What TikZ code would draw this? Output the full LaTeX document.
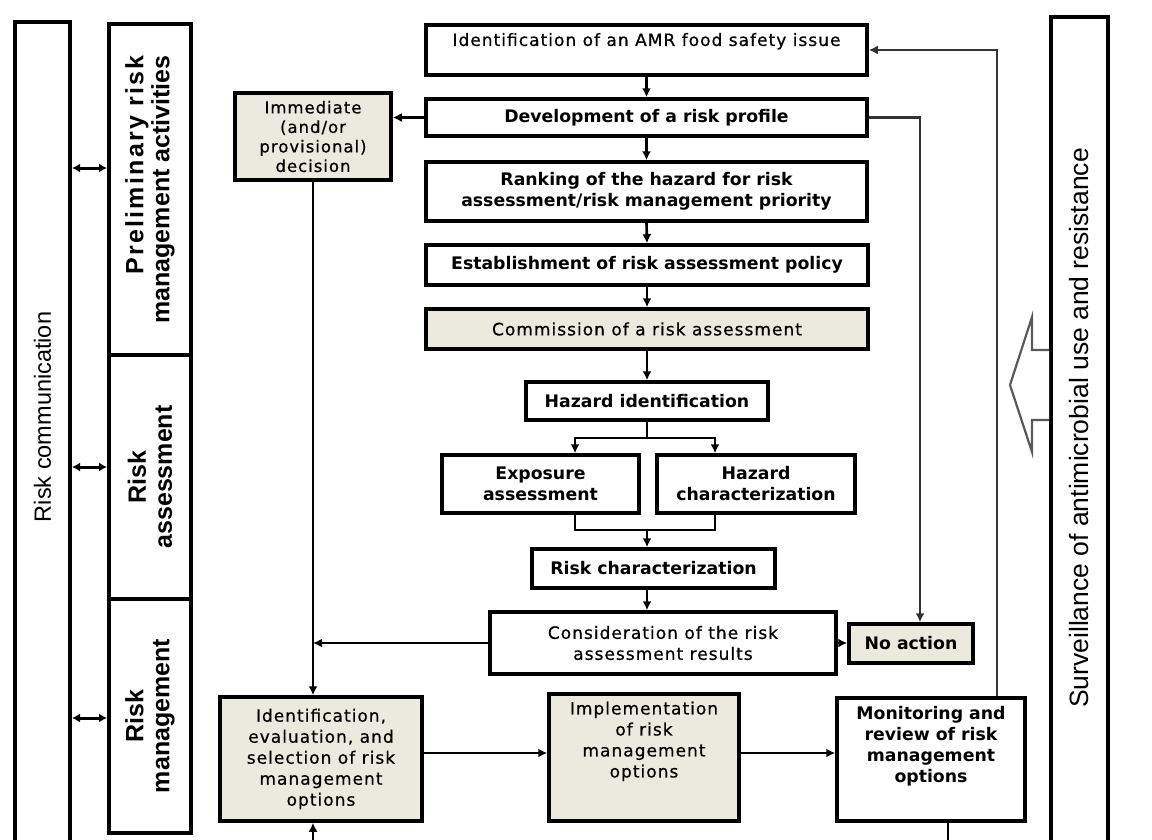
\documentclass[tikz,border=0pt]{standalone}
\usepackage{fontspec}
\setmainfont{DejaVu Sans}
\newfontfamily\regf[LetterSpace=6,FakeBold=0.6]{DejaVu Sans}
\newfontfamily\arialf{Liberation Sans}
\newfontfamily\arialsp[LetterSpace=9]{Liberation Sans}
\usetikzlibrary{arrows.meta,calc}
\definecolor{beige}{RGB}{236,234,223}
\newcommand\dpth[1]{\rule[-#1]{0pt}{#1}}
\begin{document}
\begin{tikzpicture}[x=1pt,y=-1pt,
  box/.style={draw=black,line width=3.5pt,inner sep=2pt,align=center,text=black},
  tan/.style={box,fill=beige},
  bt/.style={font=\fontsize{17.3}{21}\selectfont\bfseries},
  rt/.style={font=\fontsize{17}{21}\selectfont\regf},
  lane/.style={draw=black,line width=4pt,inner sep=0pt,rotate=90,align=center,font=\fontsize{25}{26}\selectfont\arialf\bfseries},
  conn/.style={line width=2.6pt},
  arr/.style={conn,-{Latex[length=9pt,width=9pt]}},
  dbl/.style={line width=3pt,{Latex[length=8pt,width=9pt]}-{Latex[length=8pt,width=9pt]}},
]
\useasboundingbox[fill=white] (0,0) rectangle (1152,839);

% side lanes
\node[lane,minimum width=828,minimum height=55,font=\fontsize{23.5}{26}\selectfont\arialf] (rcomm) at (42.5,436) {\hspace*{38pt}Risk communication};
\node[lane,minimum width=331,minimum height=82,align=right] (prelim) at (150,189.5) {{\arialsp Preliminary risk}\\management activities};
\node[lane,minimum width=244,minimum height=82] (ra) at (150,477) {Risk\\assessment};
\node[lane,minimum width=234,minimum height=82] (rm) at (150,716) {Risk\\management};
\node[lane,minimum width=833,minimum height=57,font=\fontsize{26.5}{28}\selectfont\arialf] (surv) at (1079.5,433.5) {\hspace*{11pt}Surveillance of antimicrobial use and resistance};

\coordinate (l1) at (0,168);
\coordinate (l2) at (0,467);
\coordinate (l3) at (0,718);
\draw[dbl] (rcomm.south |- l1) -- (prelim.north |- l1);
\draw[dbl] (rcomm.south |- l2) -- (ra.north |- l2);
\draw[dbl] (rcomm.south |- l3) -- (rm.north |- l3);

% hollow arrow from surveillance
\coordinate (h1) at (0,350);
\coordinate (h2) at (0,420);
\draw[line width=2.2pt,draw=black!65,fill=white] (surv.north |- h1) -- (1032,350) -- (1032,317) -- (1010,385) -- (1032,452) -- (1032,420) -- (surv.north |- h2);

% central boxes
\node[box,rt,minimum width=441,minimum height=50] (amr) at (646.5,50) {Identification of an AMR food safety issue\dpth{21pt}};
\node[box,bt,minimum width=441,minimum height=37] (dev) at (646.5,117.5) {Development of a risk profile};
\node[tan,font=\fontsize{16.5}{19.5}\selectfont\regf,minimum width=156,minimum height=87] (imm) at (313,136.5) {Immediate\\(and/or\\provisional)\\decision};
\node[box,bt,minimum width=441,minimum height=59] (rank) at (646.5,191.5) {Ranking of the hazard for risk\\assessment/risk management priority};
\node[box,bt,minimum width=442,minimum height=40] (est) at (647,265) {Establishment of risk assessment policy};
\node[tan,rt,minimum width=442,minimum height=40] (com) at (647,329) {Commission of a risk assessment};
\node[box,bt,minimum width=242,minimum height=38] (hid) at (647,401) {Hazard identification};
\node[box,bt,minimum width=197,minimum height=58] (exp) at (540.5,484) {Exposure\\assessment};
\node[box,bt,minimum width=198,minimum height=58] (hch) at (756,484) {Hazard\\characterization};
\node[box,bt,minimum width=243,minimum height=39] (rch) at (653.5,568.5) {Risk characterization};
\node[box,rt,minimum width=346,minimum height=62] (con) at (663,643) {Consideration of the risk\\assessment results};
\node[tan,bt,minimum width=124,minimum height=39] (noa) at (911,643.5) {No action};
\node[tan,rt,minimum width=202,minimum height=124] (ide) at (321,759) {Identification,\\evaluation, and\\selection of risk\\management\\options};
\node[tan,rt,minimum width=190,minimum height=127] (imp) at (644,757.5) {Implementation\\of risk\\management\\options\dpth{36pt}};
\node[box,bt,minimum width=188,minimum height=123] (mon) at (931,759.5) {Monitoring and\\review of risk\\management\\options\dpth{31pt}};

% connectors
\draw[arr] (amr.south) -- (dev.north);
\draw[arr] (dev.south) -- (rank.north);
\draw[arr] (rank.south) -- (est.north);
\draw[arr] (est.south) -- (com.north);
\draw[arr] (com.south) -- (hid.north);
\coordinate (hb) at (647,438);
\coordinate (hj) at (647,530);
\draw[conn] (hid.south) -- (hb);
\draw[arr] (hb) -| ([xshift=34.5pt]exp.north);
\draw[arr] (hb) -| ([xshift=-41pt]hch.north);
\draw[conn] ([xshift=34.5pt]exp.south) |- (hj);
\draw[conn] ([xshift=-41pt]hch.south) |- (hj);
\draw[arr] (hj) -- (hj |- rch.north);
\draw[arr] (hj |- rch.south) -- (hj |- con.north);
\draw[arr] (con.east) -- (con.east -| noa.west);
\draw[arr] (dev.west) -- (dev.west -| imm.east);
\draw[arr] (imm.south) -- (imm.south |- ide.north);
\draw[arr] (con.west) -- (con.west -| imm.south);
\draw[arr,draw=black!80] (dev.east) -| ([xshift=9pt]noa.north);
\draw[arr,draw=black!80] ([xshift=66pt]mon.north) |- (amr.east);
\draw[arr] ([yshift=6pt]ide.east) -- ([yshift=6pt]ide.east -| imp.west);
\draw[arr] ([yshift=4.5pt]imp.east) -- ([yshift=4.5pt]imp.east -| mon.west);
\coordinate (bin) at (313,850);
\draw[arr] (bin) -- (bin |- ide.south);
\coordinate (bout) at (948,850);
\draw[conn] ([xshift=17pt]mon.south) -- ([xshift=17pt]mon.south |- bout);
\end{tikzpicture}
\end{document}
